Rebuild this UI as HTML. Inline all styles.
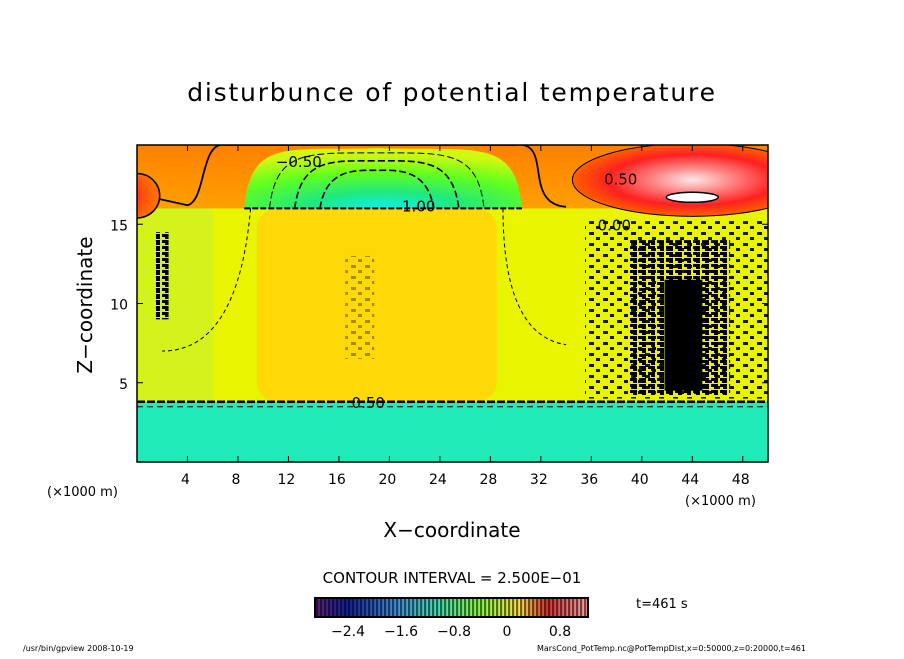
<!DOCTYPE html>
<html><head><meta charset="utf-8"><style>
body{margin:0;background:#fff;}
svg text{font-family:"DejaVu Sans","Liberation Sans",sans-serif;}
</style></head><body>
<svg id="chart" width="904" height="654" viewBox="0 0 904 654" xmlns="http://www.w3.org/2000/svg">
<defs>
<radialGradient id="redR" cx="0.5" cy="0.5" r="0.5">
<stop offset="0" stop-color="#ffe8e8"/><stop offset="0.35" stop-color="#ff8080"/><stop offset="0.7" stop-color="#ff2020"/><stop offset="1" stop-color="#ff6000"/></radialGradient>
<radialGradient id="redL" cx="0.3" cy="0.5" r="0.6">
<stop offset="0" stop-color="#ff2020"/><stop offset="1" stop-color="#ff7000"/></radialGradient>
<radialGradient id="green" cx="0.5" cy="1" r="0.9">
<stop offset="0" stop-color="#10f0f0"/><stop offset="0.3" stop-color="#20e880"/><stop offset="0.65" stop-color="#60ff20"/><stop offset="1" stop-color="#d0f810"/></radialGradient>
<linearGradient id="top" x1="0" y1="0" x2="0" y2="1"><stop offset="0" stop-color="#ff8000"/><stop offset="1" stop-color="#ffa000"/></linearGradient>
<linearGradient id="cbar" x1="0" y1="0" x2="1" y2="0">
<stop offset="0" stop-color="#602080"/><stop offset="0.12" stop-color="#1020a0"/><stop offset="0.3" stop-color="#4090e0"/><stop offset="0.45" stop-color="#40e0b0"/><stop offset="0.6" stop-color="#80ff40"/><stop offset="0.75" stop-color="#ffe040"/><stop offset="0.85" stop-color="#e03030"/><stop offset="1" stop-color="#ffa0a0"/></linearGradient>
<pattern id="stripes" width="4" height="10" patternUnits="userSpaceOnUse"><rect width="2.2" height="10" fill="#000"/></pattern>
<pattern id="speck" width="14" height="11" patternUnits="userSpaceOnUse"><rect x="1" y="1" width="5" height="3" fill="#000"/><rect x="8" y="6" width="4" height="3" fill="#000"/></pattern>
<pattern id="speck2" width="9" height="6" patternUnits="userSpaceOnUse"><rect x="0" y="0" width="7" height="3" fill="#000"/><rect x="3" y="3" width="4" height="2" fill="#000"/></pattern>
<clipPath id="pc"><rect x="137" y="145" width="631" height="317"/></clipPath>
</defs>
<text x="452" y="101" font-size="25" text-anchor="middle" letter-spacing="1.8">disturbunce of potential temperature</text>
<g id="plot" clip-path="url(#pc)"></g>
<rect x="137" y="145" width="631" height="317" fill="none" stroke="#000" stroke-width="1.5"/>
<g id="axes"></g>
<text x="47" y="496" font-size="13">(×1000 m)</text>
<text x="685" y="505" font-size="13">(×1000 m)</text>
<text x="452" y="537" font-size="20" text-anchor="middle">X−coordinate</text>
<text x="92" y="305" font-size="20" text-anchor="middle" transform="rotate(-90 92 305)">Z−coordinate</text>
<text x="452" y="583" font-size="15" text-anchor="middle">CONTOUR INTERVAL = 2.500E−01</text>
<rect x="315" y="598" width="273" height="19" fill="url(#cbar)" stroke="#000" stroke-width="2"/>
<rect x="315" y="598" width="273" height="19" fill="url(#stripes)" opacity="0.55"/>
<g id="cbticks"></g>
<text x="636" y="608" font-size="13">t=461 s</text>
<text x="23" y="651" font-size="8">/usr/bin/gpview   2008-10-19</text>
<text x="537" y="651" font-size="8">MarsCond_PotTemp.nc@PotTempDist,x=0:50000,z=0:20000,t=461</text>
</svg>
<script>
const xTicks=[4,8,12,16,20,24,28,32,36,40,44,48];
const yTicks=[5,10,15];
const cbTicks=[-2.4,-1.6,-0.8,0,0.8];
const layerBottom=3.8, layerTop=16;
const redRight={cx:44,cy:17.8,rx:9.5,ry:2.3};
const redLeft={cx:0,cy:16.8,rx:1.8,ry:1.4};
const NS="http://www.w3.org/2000/svg";
const X=v=>137+v*631/50, Y=v=>462-v*317/20;
function el(t,a,p){const e=document.createElementNS(NS,t);for(const k in a)e.setAttribute(k,a[k]);p.appendChild(e);return e;}
const plot=document.getElementById('plot');
let r;
r=el('rect',{x:137,y:145,width:631,height:317,fill:'#e8f400'},plot);

r=el('rect',{x:137,y:Y(layerTop),width:X(6)-137,height:Y(layerBottom)-Y(layerTop),fill:'#d4f21c'},plot);

r=el('rect',{x:X(9.5),y:Y(layerTop),width:X(28.5)-X(9.5),height:Y(layerBottom)-Y(layerTop),fill:'#ffd808',rx:20},plot);

r=el('rect',{x:137,y:145,width:631,height:Y(layerTop)-145,fill:'url(#top)'},plot);

r=el('path',{d:`M${X(8.5)} ${Y(16)} C${X(9)} ${Y(20.5)} ${X(12)} ${Y(19.6)} ${X(19)} ${Y(19.8)} C${X(27)} ${Y(19.6)} ${X(30)} ${Y(20.5)} ${X(30.5)} ${Y(16)} Z`,fill:'url(#green)'},plot);

[[10.5,19.5],[12.5,19.0],[14.5,18.4]].forEach((c,i)=>{
 const a=c[0],t=c[1];
 r=el('path',{d:`M${X(a)} ${Y(16)} C${X(a+0.5)} ${Y(t+0.2)} ${X(a+3)} ${Y(t)} ${X(19)} ${Y(t)} C${X(38-a-3)} ${Y(t)} ${X(38-a-0.5)} ${Y(t+0.2)} ${X(38-a)} ${Y(16)}`,fill:'none',stroke:'#000','stroke-dasharray':'7 3','stroke-width':i==0?1:1.6},plot);
 });
r=el('path',{d:`M137 ${Y(16.9)} L${X(4)} ${Y(16.2)} C${X(5.5)} ${Y(16.5)} ${X(5)} ${Y(20.3)} ${X(7)} ${Y(20)} L${X(30)} ${Y(20)} C${X(33)} ${Y(20.3)} ${X(30.5)} ${Y(16.3)} ${X(34)} ${Y(16.1)}`,fill:'none',stroke:'#000','stroke-width':1.8},plot);

r=el('ellipse',{cx:X(redRight.cx),cy:Y(redRight.cy),rx:redRight.rx*631/50,ry:redRight.ry*317/20,fill:'url(#redR)',stroke:'#000','stroke-width':1},plot);

r=el('ellipse',{cx:X(44),cy:Y(16.7),rx:26,ry:5,fill:'#fff',stroke:'#000','stroke-width':1.5},plot);

r=el('ellipse',{cx:X(redLeft.cx),cy:Y(redLeft.cy),rx:redLeft.rx*631/50,ry:redLeft.ry*317/20,fill:'url(#redL)',stroke:'#000','stroke-width':1.5},plot);

r=el('rect',{x:137,y:Y(layerBottom),width:631,height:462-Y(layerBottom),fill:'#20eab8'},plot);

r=el('line',{x1:137,x2:768,y1:Y(layerBottom),y2:Y(layerBottom),stroke:'#000','stroke-width':2.5,'stroke-dasharray':'8 2'},plot);

r=el('line',{x1:137,x2:768,y1:Y(layerBottom)+5,y2:Y(layerBottom)+5,stroke:'#000','stroke-width':1,'stroke-dasharray':'6 4'},plot);

r=el('line',{x1:X(8.5),x2:X(30.5),y1:Y(layerTop),y2:Y(layerTop),stroke:'#000','stroke-width':2,'stroke-dasharray':'6 2'},plot);

r=el('rect',{x:X(35.5),y:Y(15.2),width:X(50)-X(35.5),height:Y(4)-Y(15.2),fill:'url(#speck)',opacity:0.9},plot);

r=el('rect',{x:X(39),y:Y(14),width:X(47)-X(39),height:Y(4.2)-Y(14),fill:'url(#speck2)'},plot);

r=el('rect',{x:X(41.8),y:Y(11.5),width:X(44.8)-X(41.8),height:Y(4.5)-Y(11.5),fill:'#000'},plot);

r=el('rect',{x:X(1.5),y:Y(14.5),width:X(2.5)-X(1.5),height:Y(9)-Y(14.5),fill:'url(#speck2)'},plot);

r=el('rect',{x:X(16.5),y:Y(13),width:X(18.8)-X(16.5),height:Y(6.5)-Y(13),fill:'url(#speck)',opacity:0.35},plot);

r=el('path',{d:`M${X(9)} ${Y(layerTop)} Q${X(8)} ${Y(7)} ${X(2)} ${Y(7)} M${X(29)} ${Y(layerTop)} Q${X(29)} ${Y(8)} ${X(34)} ${Y(7.4)}`,fill:'none',stroke:'#000','stroke-dasharray':'4 3'},plot);

[['−0.50',X(11),Y(18.6)],['1.00',X(21),Y(15.8)],['0.50',X(37),Y(17.5)],['0.00',X(36.5),Y(14.6)],['0.50',X(17),Y(3.4)]].forEach(l=>{
 r=el('text',{x:l[1],y:l[2],'font-size':15},plot);r.textContent=l[0];
 });
const axes=document.getElementById('axes');
xTicks.forEach(v=>{
 r=el('line',{x1:X(v),x2:X(v),y1:462,y2:456,stroke:'#000'},axes);
 
 r=el('line',{x1:X(v),x2:X(v),y1:145,y2:151,stroke:'#000'},axes);
 
 r=el('text',{x:X(v)-2,y:484,'font-size':14,'text-anchor':'middle'},axes);r.textContent=v;
 });
yTicks.forEach(v=>{
 r=el('line',{x1:137,x2:143,y1:Y(v),y2:Y(v),stroke:'#000'},axes);
 
 r=el('line',{x1:762,x2:768,y1:Y(v),y2:Y(v),stroke:'#000'},axes);
 
 r=el('text',{x:128,y:Y(v)+6,'font-size':14,'text-anchor':'end'},axes);r.textContent=v;
 });
const cb=document.getElementById('cbticks');
const C=v=>507+v*53/0.8;
cbTicks.forEach(v=>{
 r=el('text',{x:C(v),y:636,'font-size':14,'text-anchor':'middle'},cb);r.textContent=v===0?'0':String(v).replace('-','−');
 });
</script>
</body></html>
